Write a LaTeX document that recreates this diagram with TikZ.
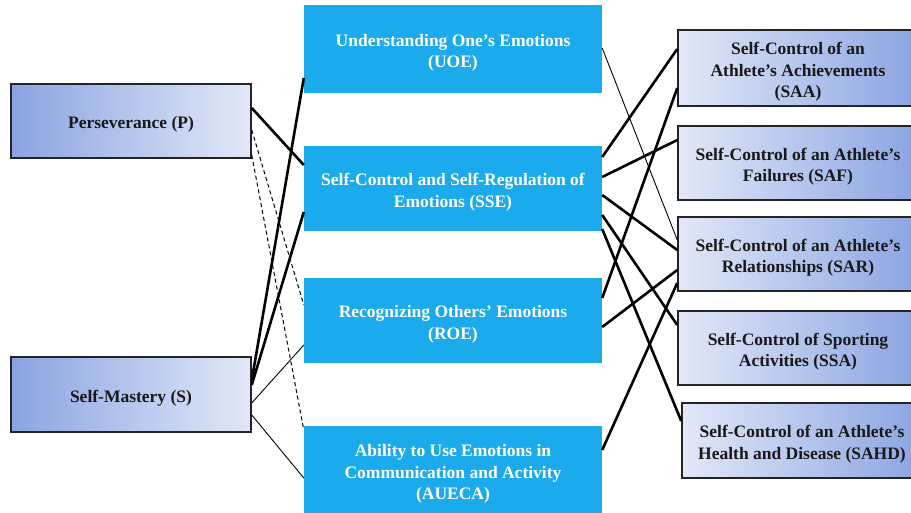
\documentclass[tikz,border=0pt]{standalone}
\usepackage{fontspec}
\setmainfont{Liberation Serif}
\definecolor{boxdark}{RGB}{138,164,226}
\definecolor{boxlight}{RGB}{226,232,247}
\definecolor{midblue}{RGB}{27,170,235}
\definecolor{edgegray}{RGB}{35,35,40}
\def\boxfont{\fontsize{17.5}{21.5}\selectfont\bfseries}
\tikzset{
	factor/.style={draw=edgegray,line width=1.5pt,left color=boxdark,right color=boxlight,minimum width=240pt,minimum height=74pt,align=center,font=\boxfont,text=black!90,text height=19pt,text depth=4pt},
	skill/.style={fill=midblue,minimum width=298pt,minimum height=86pt,align=center,font=\boxfont,text=white,text height=19pt,text depth=4pt},
	area/.style={factor,left color=boxlight,right color=boxdark},
	twoline/.style={text height=41.8pt},
	threeline/.style={text height=63.3pt},
	strong/.style={line width=2.6pt},
	weak/.style={line width=0.9pt},
	loose/.style={line width=1pt,dash pattern=on 4pt off 3pt}
}

\begin{document}
\begin{tikzpicture}[x=1pt,y=-1pt]
					\useasboundingbox (0,0) rectangle (911,512);
					
					%personality traits
					\node[factor] (p) at (131,121) {Perseverance (P)};
					\node[factor,minimum height=75pt] (s) at (131,394.5) {Self-Mastery (S)};
					
					%emotional skills
					\node[skill,twoline,minimum height=88pt] (uoe) at (453,49) {Understanding One’s Emotions\\(UOE)};
					\node[skill,twoline,minimum height=85pt] (sse) at (453,188.5) {Self-Control and Self-Regulation of\\Emotions (SSE)};
					\node[skill,twoline,minimum height=85pt] (roe) at (453,320.5) {Recognizing Others’ Emotions\\(ROE)};
					\node[skill,threeline,minimum height=88pt] (aueca) at (453,470) {Ability to Use Emotions in\\Communication and Activity\\(AUECA)};
					
					%self-control areas
					\node[area,threeline,minimum height=76pt] (saa) at (798,68) {Self-Control of an\\Athlete’s Achievements\\(SAA)};
					\node[area,twoline] (saf) at (798,163) {Self-Control of an Athlete’s\\Failures (SAF)};
					\node[area,twoline] (sar) at (798,254) {Self-Control of an Athlete’s\\Relationships (SAR)};
					\node[area,twoline] (ssa) at (798,348) {Self-Control of Sporting\\Activities (SSA)};
					\node[area,twoline,minimum height=75pt] (sahd) at (802,440.5) {Self-Control of an Athlete’s\\Health and Disease (SAHD)};
					
					%links from the traits
					\draw[strong] ([yshift=13pt]p.east) -- ([yshift=23.5pt]sse.west);
					\draw[loose] ([yshift=-9pt]p.east) -- ([yshift=15.5pt]roe.west);
					\draw[loose] ([yshift=-34pt]p.east) -- ([yshift=40pt]aueca.west);
					\draw[strong] ([yshift=14.5pt]s.east) -- ([yshift=-29pt]uoe.west);
					\draw[strong] ([yshift=9.5pt]s.east) -- ([yshift=-23.5pt]sse.west);
					\draw[weak] ([yshift=-8.5pt]s.east) -- ([yshift=-24.5pt]roe.west);
					\draw[weak] ([yshift=-20.5pt]s.east) -- ([yshift=-8pt]aueca.west);
					
					%links to the self-control areas
					\draw[weak] ([yshift=1pt]uoe.east) -- ([yshift=14pt]sar.west);
					\draw[strong] ([yshift=31.5pt]sse.east) -- ([yshift=19pt]saa.west);
					\draw[strong] ([yshift=11.5pt]sse.east) -- ([yshift=23pt]saf.west);
					\draw[strong] ([yshift=-6.5pt]sse.east) -- ([yshift=4pt]sar.west);
					\draw[strong] ([yshift=-26.5pt]sse.east) -- ([yshift=23pt]ssa.west);
					\draw[strong] ([yshift=-40.5pt]sse.east) -- ([yshift=19.5pt]sahd.west);
					\draw[strong] ([yshift=22.5pt]roe.east) -- ([yshift=-20pt]saa.west);
					\draw[strong] ([yshift=-6.5pt]roe.east) -- ([yshift=-16pt]sar.west);
					\draw[strong] ([yshift=20pt]aueca.east) -- ([yshift=-29pt]sar.west);
				\end{tikzpicture}
\end{document}
